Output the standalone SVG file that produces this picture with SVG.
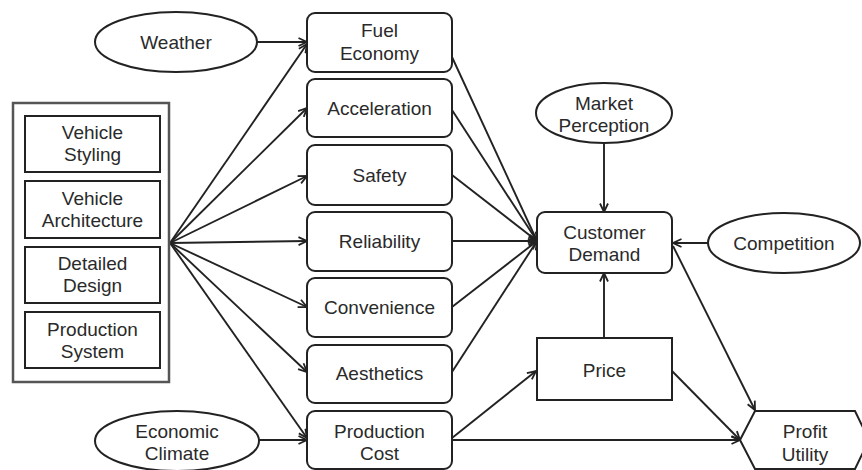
<svg xmlns="http://www.w3.org/2000/svg" width="862" height="470" viewBox="0 0 862 470">
  <style>
    .shape { fill: #fff; stroke: #222; stroke-width: 2; }
    .frame { fill: #fff; stroke: #555; stroke-width: 2.5; }
    .label { font-family: "Liberation Sans", Arial, sans-serif; font-size: 19px; fill: #2a2a2a; text-anchor: middle; }
    .link { fill: none; stroke: #222; stroke-width: 1.9; marker-end: url(#arrow); }
  </style>
  <defs>
    <marker id="arrow" viewBox="0 0 10 10" refX="9.5" refY="5" markerWidth="10" markerHeight="10" markerUnits="userSpaceOnUse" orient="auto">
      <path d="M1,1 L9.5,5 L1,9" fill="none" stroke="#222" stroke-width="1.8"/>
    </marker>
  </defs>

  <!-- connectors -->
  <g id="connectors">
    <line class="link" x1="257" y1="42" x2="307" y2="42"/>
    <line class="link" x1="259" y1="440" x2="307" y2="440"/>
    <!-- fan from design decisions -->
    <line class="link" x1="170" y1="243" x2="307" y2="44"/>
    <line class="link" x1="170" y1="243" x2="307" y2="108"/>
    <line class="link" x1="170" y1="243" x2="307" y2="176"/>
    <line class="link" x1="170" y1="243" x2="307" y2="241"/>
    <line class="link" x1="170" y1="243" x2="307" y2="307"/>
    <line class="link" x1="170" y1="243" x2="307" y2="372"/>
    <line class="link" x1="170" y1="243" x2="307" y2="438"/>
    <!-- attributes into demand -->
    <line class="link" x1="452" y1="57" x2="537" y2="241"/>
    <line class="link" x1="452" y1="110" x2="537" y2="241"/>
    <line class="link" x1="452" y1="175" x2="537" y2="241"/>
    <line class="link" x1="452" y1="241" x2="537" y2="241"/>
    <line class="link" x1="452" y1="307" x2="537" y2="241"/>
    <line class="link" x1="452" y1="372" x2="537" y2="241"/>
    <!-- cost paths -->
    <line class="link" x1="452" y1="438" x2="536" y2="371"/>
    <line class="link" x1="452" y1="440" x2="740" y2="440"/>
    <line class="link" x1="672" y1="371" x2="740" y2="440"/>
    <!-- demand side -->
    <line class="link" x1="604" y1="143" x2="604" y2="212"/>
    <line class="link" x1="708" y1="243" x2="673" y2="243"/>
    <line class="link" x1="604" y1="338" x2="604" y2="273"/>
    <line class="link" x1="673" y1="246" x2="755" y2="410"/>
  </g>

  <g id="weather">
    <ellipse class="shape" cx="176" cy="42" rx="81" ry="30"/>
    <text class="label" x="176" y="49">Weather</text>
  </g>

  <g id="economic-climate">
    <ellipse class="shape" cx="177" cy="441" rx="82" ry="30"/>
    <text class="label" x="177" y="438">Economic</text>
    <text class="label" x="177" y="460">Climate</text>
  </g>

  <g id="design-decisions">
    <rect class="frame" x="13" y="103" width="156" height="279"/>
    <g id="vehicle-styling">
      <rect class="shape" x="25" y="116" width="135" height="56"/>
      <text class="label" x="92.5" y="139">Vehicle</text>
      <text class="label" x="92.5" y="161">Styling</text>
    </g>
    <g id="vehicle-architecture">
      <rect class="shape" x="25" y="181" width="135" height="57"/>
      <text class="label" x="92.5" y="205">Vehicle</text>
      <text class="label" x="92.5" y="227">Architecture</text>
    </g>
    <g id="detailed-design">
      <rect class="shape" x="25" y="247" width="135" height="56"/>
      <text class="label" x="92.5" y="270">Detailed</text>
      <text class="label" x="92.5" y="292">Design</text>
    </g>
    <g id="production-system">
      <rect class="shape" x="25" y="312" width="135" height="56"/>
      <text class="label" x="92.5" y="336">Production</text>
      <text class="label" x="92.5" y="358">System</text>
    </g>
  </g>

  <g id="fuel-economy">
    <rect class="shape" x="307" y="13" width="145" height="59" rx="8"/>
    <text class="label" x="379.5" y="37">Fuel</text>
    <text class="label" x="379.5" y="60">Economy</text>
  </g>
  <g id="acceleration">
    <rect class="shape" x="307" y="79" width="145" height="58" rx="8"/>
    <text class="label" x="379.5" y="115">Acceleration</text>
  </g>
  <g id="safety">
    <rect class="shape" x="307" y="145" width="145" height="60" rx="8"/>
    <text class="label" x="379.5" y="182">Safety</text>
  </g>
  <g id="reliability">
    <rect class="shape" x="307" y="212" width="145" height="59" rx="8"/>
    <text class="label" x="379.5" y="248">Reliability</text>
  </g>
  <g id="convenience">
    <rect class="shape" x="307" y="278" width="145" height="59" rx="8"/>
    <text class="label" x="379.5" y="314">Convenience</text>
  </g>
  <g id="aesthetics">
    <rect class="shape" x="307" y="345" width="145" height="58" rx="8"/>
    <text class="label" x="379.5" y="380">Aesthetics</text>
  </g>
  <g id="production-cost">
    <rect class="shape" x="307" y="411" width="145" height="58" rx="8"/>
    <text class="label" x="379.5" y="438">Production</text>
    <text class="label" x="379.5" y="460">Cost</text>
  </g>

  <g id="market-perception">
    <ellipse class="shape" cx="604" cy="113" rx="68" ry="30"/>
    <text class="label" x="604" y="110">Market</text>
    <text class="label" x="604" y="132">Perception</text>
  </g>

  <g id="customer-demand">
    <rect class="shape" x="537" y="212" width="135" height="61" rx="8"/>
    <text class="label" x="604.5" y="239">Customer</text>
    <text class="label" x="604.5" y="261">Demand</text>
  </g>

  <g id="competition">
    <ellipse class="shape" cx="784" cy="243" rx="76" ry="30"/>
    <text class="label" x="784" y="250">Competition</text>
  </g>

  <g id="price">
    <rect class="shape" x="537" y="338" width="135" height="62"/>
    <text class="label" x="604.5" y="377">Price</text>
  </g>

  <g id="profit-utility">
    <polygon class="shape" points="740,440 755,411 855,411 869,440 855,469 755,469"/>
    <text class="label" x="805" y="438">Profit</text>
    <text class="label" x="805" y="461">Utility</text>
  </g>
</svg>
